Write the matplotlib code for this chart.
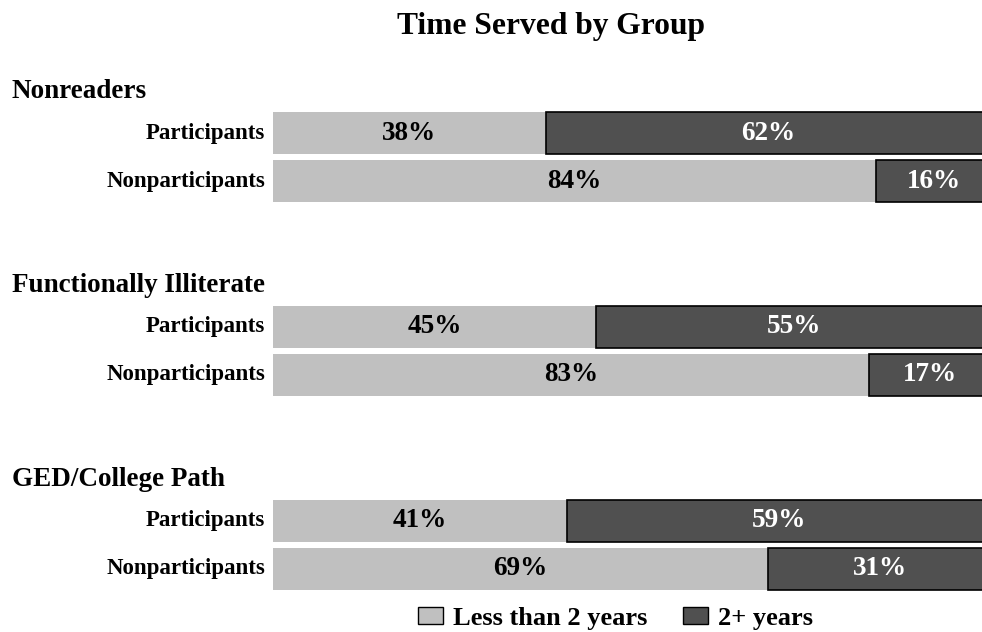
import matplotlib.pyplot as plt
from matplotlib.patches import Patch
from matplotlib.transforms import blended_transform_factory

plt.rcParams['font.family'] = ['Liberation Serif', 'DejaVu Serif']
plt.rcParams['font.weight'] = 'bold'

groups = ['Nonreaders', 'Functionally Illiterate', 'GED/College Path']
rows = ['Participants', 'Nonparticipants']
less_than_2 = [38, 84, 45, 83, 41, 69]
two_plus = [62, 16, 55, 17, 59, 31]
series_names = ['Less than 2 years', '2+ years']

light = '#c0c0c0'
dark = '#505050'
group_step = 4.04

fig = plt.figure(figsize=(9.82, 6.32), dpi=100)
ax = fig.add_axes([273 / 982, 0, 718 / 982, 1])
ax.set_xlim(0, 100)
ax.set_ylim((632 - 133) / 48, -133 / 48)
ax.axis('off')

ypos = []
for g in range(len(groups)):
    for r in range(len(rows)):
        ypos.append(g * group_step + r)

ax.barh(ypos, less_than_2, height=0.875, color=light, edgecolor='none')
ax.barh(ypos, two_plus, left=less_than_2, height=0.875, color=dark,
        edgecolor='black', linewidth=1.2)

for y, a, b in zip(ypos, less_than_2, two_plus):
    ax.text(a / 2, y, f'{a}%', ha='center', va='center', fontsize=19.5,
            color='black', fontweight='bold')
    ax.text(a + b / 2, y, f'{b}%', ha='center', va='center', fontsize=19.5,
            color='white', fontweight='bold')

trans = blended_transform_factory(fig.transFigure, ax.transData)
for g, name in enumerate(groups):
    ax.text(12 / 982, g * group_step - 0.86, name, transform=trans,
            ha='left', va='center', fontsize=19.5, fontweight='bold')
    for r, lab in enumerate(rows):
        ax.text(265 / 982, g * group_step + r, lab, transform=trans,
                ha='right', va='center', fontsize=16.5, fontweight='bold')

fig.text(0.561, 1 - 34 / 632, 'Time Served by Group', ha='center',
         va='baseline', fontsize=22.7, fontweight='bold')

handles = [Patch(facecolor=light, edgecolor='black', linewidth=1),
           Patch(facecolor=dark, edgecolor='black', linewidth=1)]
fig.legend(handles, series_names, loc='center', bbox_to_anchor=(0.627, 0.022),
           ncol=2, frameon=False, fontsize=19, handlelength=0.95,
           handleheight=0.6, handletextpad=0.38, columnspacing=1.33,
           borderpad=0.1)

fig.savefig('out.png', dpi=100)
